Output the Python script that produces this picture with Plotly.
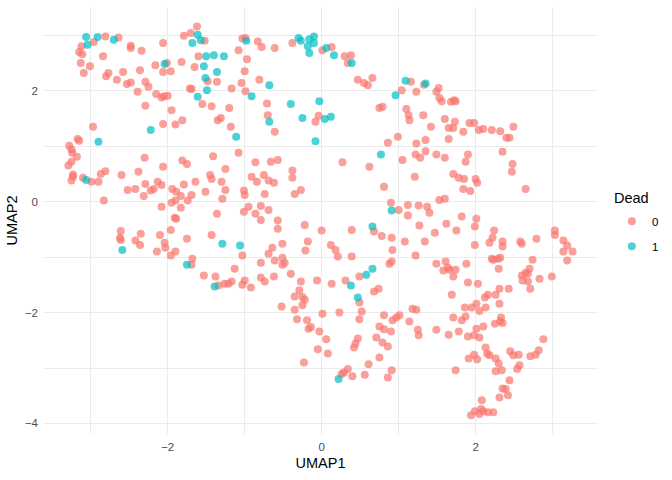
import plotly.graph_objects as go

# UMAP coordinates, split by the "Dead" flag
alive_x = [
    -2.81, -2.64, -2.96, -3.12, -2.48, -2.48, -2.06, -2.34, -3.15, -3.11, -2.84, -3.13, -3.01, -3.09, -2.77, -2.80,
    -2.58, -2.66, -2.53, -2.48, -2.36, -2.16, -2.01, -2.06, -1.96, -1.82, -1.65, -2.29, -2.25, -2.39, -2.15, -2.08,
    -2.05, -2.00, -2.29, -1.95, -2.06, -1.90, -1.81, -2.97, -1.79, -1.70, -1.62, -1.52, -1.60, -1.48, -1.36, -1.17,
    -1.71, -1.69, -1.55, -1.43, -1.20, -1.35, -1.31, -1.18, -1.08, -3.17, -3.15, -3.28, -3.25, -3.24, -3.18, -1.41,
    -1.03, -0.99, -0.83, -0.78, -0.61, -0.38, -0.97, -1.00, -1.04, -0.99, -0.81, -0.71, -0.70, -0.61, -0.04, -0.08,
    0.01, 0.13, 0.30, 0.38, 0.34, 0.47, 0.55, 0.60, 0.66, 1.04, 1.16, 1.23, 0.75, 0.79, 1.10, 1.13,
    1.14, 0.99, 0.86, 1.23, 1.22, -1.08,
    1.33, 1.52, 1.49, 1.53, 1.56, 1.68, 1.72, 1.74, 1.32, 1.60, 1.73, 1.42, 1.65, 1.71, 1.84, 1.92,
    1.98, 2.04, 2.10, 2.21, 2.32, 2.49, 2.40, 2.44, 1.35, 1.65, 1.35, 1.49, 1.90, 2.35,
    -3.25, -3.29, -2.30, -1.81, -1.75, -2.06, -2.38, -2.81, -2.87, -3.23, -3.23, -3.10, -3.25, -2.99, -2.90, -2.60,
    -2.52, -2.42, -2.29, -2.31, -2.22, -2.18, -2.13, -2.08, -1.94, -1.89, -1.83, -1.79, -1.69, -1.64, -1.95, -1.90,
    -1.74, -1.83, -2.08, -2.83, -1.91, -1.89, -1.45, -1.43, -1.25, -1.30, -1.25, -1.51, -1.29, -1.36, -1.96, -2.10,
    -2.35, -2.61, -2.62, -2.61, -2.42, -2.36, -2.04, -2.03, -2.14, -1.96, -1.90, -1.75, -1.43, -1.68, -1.69, -1.53,
    -1.38, -1.13, -1.34, -1.26, -1.21, -1.17,
    -0.86, -0.66, -0.57, -0.38, -0.38, -0.91, -0.84, -0.75, -0.69, -0.62, -1.01, -1.00, -0.74, -0.35, -0.27, 0.27,
    0.62, 0.81, 1.05, 1.21, -0.95, -1.01, -0.79, -0.86, -0.69, -0.79, -0.57, -0.57, -0.22, 0.00, 0.39, 0.68,
    0.78, 0.91, 0.90, 1.00, 1.12, 1.12, 1.08, 0.92, 1.22, 0.88, 0.91, -0.18, -0.21, -0.51, -0.64, -0.69,
    -0.61, -0.51, -0.51, -0.48, -1.03, -0.79, 0.12, 0.18, 0.21, 0.39, -0.40, -0.27, -0.06, 0.13, 0.31, 0.49,
    -0.79, -0.74, -0.62, -1.00, -1.03, -0.92, -0.29, -0.35, 0.68, 0.74,
    1.28, 1.60, 1.87, 2.48, 2.47, 1.71, 1.78, 1.85, 2.00, 2.02, 1.84, 1.93, 2.65, 1.53, 1.60, 1.26,
    1.37, 1.40, 1.82, 2.01, 1.27, 1.62, 1.99, 1.75, 1.47, 2.24, 2.22, 2.18, 2.35, 2.35, 1.99, 1.34,
    2.58, 2.60, 2.79, 3.03, 3.03, 3.14, 3.19, 3.26, 3.14, 3.19, 1.49, 1.61, 1.58, 1.64, 1.66, 1.74,
    1.71, 1.88, 2.21, 2.23, 2.29, 2.32, 2.30, 2.74, 2.70, 2.65, 2.60, 2.68, 2.83, 2.99, 2.61, 2.68,
    2.71, 1.90, 2.03, 2.31, 2.43, 1.69, 2.16, 2.26,
    2.12, 2.31, 2.01, 1.86, 1.95, 2.05, 2.13, 1.71, 1.82, 1.87, 2.25, 2.33, 2.32, 2.35, 2.10, 1.25,
    1.26, 1.49, 1.65, 1.78, 1.90, 1.98, 2.01, 2.05, 2.88, 2.13, 2.15, 2.18, 1.98, 1.91, 2.02, 2.26,
    2.30, 2.45, 2.49, 2.56, 2.71, 2.78, 2.82, 2.57, 2.54, 2.26, 2.34, 1.74, 2.44, 2.35, 2.39, 2.42,
    2.31, 2.08, 1.99, 1.94, 2.05, 2.07, 2.10, 2.16, 2.23,
    -0.25, -0.22, -0.52, -0.35, -0.25, 0.01, 0.23, 0.49, 0.52, 0.49, 0.81, 0.92, 0.97, 1.01, 1.14, 1.18,
    1.23, -0.32, -0.19, -0.17, -0.14, -0.03, 0.06, -0.05, 0.08, -0.23, 0.47, 0.44, 0.42, 0.75, 0.81, 0.90,
    0.71, 0.79, 0.86, 0.75, 0.61, 0.56, 0.91, 0.86, 0.40, 0.34, 0.29, 0.26,
]
alive_y = [
    2.98, 2.96, 2.88, 2.80, 2.81, 2.77, 2.86, 2.72, 2.70, 2.66, 2.62, 2.50, 2.44, 2.32, 2.32, 2.26,
    2.34, 2.20, 2.12, 2.15, 2.37, 2.46, 2.50, 2.34, 2.35, 2.52, 2.43, 2.16, 2.07, 1.98, 1.94, 1.88,
    1.90, 1.91, 1.73, 1.65, 1.40, 1.39, 1.47, 1.35, 2.99, 3.04, 3.16, 2.90, 2.62, 2.17, 2.16, 2.04,
    2.04, 2.03, 1.76, 1.72, 1.69, 1.47, 1.51, 1.35, 2.73, 1.13, 1.10, 1.01, 0.94, 0.88, 0.81, 0.82,
    2.94, 2.95, 2.89, 2.79, 2.77, 2.86, 2.57, 2.35, 2.14, 1.99, 2.20, 1.77, 1.56, 1.26, 1.55, 1.44,
    2.73, 2.79, 2.62, 2.64, 2.50, 2.20, 2.14, 2.10, 2.23, 2.01, 2.16, 1.98, 1.69, 1.71, 1.67, 1.56,
    1.47, 1.17, 1.06, 1.05, 0.85, 0.88,
    2.11, 2.05, 1.98, 1.87, 1.81, 1.80, 1.83, 1.81, 1.56, 1.49, 1.44, 1.35, 1.33, 1.33, 1.26, 1.42,
    1.42, 1.29, 1.31, 1.29, 1.27, 1.35, 1.15, 1.15, 1.11, 1.13, 0.91, 0.85, 0.85, 0.90,
    0.72, 0.65, 0.79, 0.74, 0.68, 0.63, 0.54, 0.55, 0.50, 0.49, 0.45, 0.43, 0.38, 0.36, 0.36, 0.48,
    0.21, 0.23, 0.32, 0.10, 0.20, 0.23, 0.36, 0.30, 0.23, 0.18, 0.10, 0.31, 0.12, 0.36, -0.02, 0.02,
    0.02, -0.11, -0.09, 0.02, -0.29, -0.31, 0.48, 0.41, 0.59, 0.36, 0.21, 0.18, 0.05, -0.22, -0.51, -0.60,
    -0.58, -0.53, -0.65, -0.69, -0.70, -0.78, -0.74, -0.83, -0.90, -0.97, -0.90, -0.67, -0.60, -1.03, -1.14, -1.33,
    -1.35, -1.21, -1.51, -1.48, -1.48, -1.44,
    0.71, 0.72, 0.75, 0.56, 0.43, 0.45, 0.36, 0.48, 0.38, 0.34, 0.20, 0.12, 0.14, 0.14, 0.21, 0.71,
    0.63, 0.27, 0.75, 0.45, -0.09, -0.18, -0.08, -0.22, -0.15, -0.33, -0.34, -0.49, -0.42, -0.52, -0.51, -0.54,
    -0.62, -0.65, -0.02, -0.15, -0.06, -0.25, -0.72, -0.87, -0.97, -1.12, -1.08, -0.72, -0.88, -0.76, -0.83, -0.94,
    -1.06, -1.01, -1.14, -1.10, -0.97, -1.10, -0.78, -0.87, -0.99, -0.99, -1.30, -1.44, -1.42, -1.48, -1.42, -1.35,
    -1.37, -1.44, -1.35, -1.42, -1.50, -1.55, -1.60, -1.71, -1.62, -1.57,
    0.79, 0.79, 0.72, 0.68, 0.54, 0.50, 0.43, 0.41, 0.41, 0.34, 0.23, 0.19, 0.23, 0.03, 0.05, -0.07,
    -0.09, -0.20, -0.27, -0.31, -0.43, -0.40, -0.45, -0.52, -0.56, -0.52, -0.65, -0.74, -0.72, -0.81, -0.78, -0.72,
    -0.72, -0.76, -0.67, -0.52, -0.60, -0.70, -0.79, -0.90, -0.90, -1.06, -1.12, -1.08, -1.24, -1.19, -1.23, -1.23,
    -1.35, -1.12, -1.03, -1.05, -1.03, -1.01, -1.21, -1.05, -1.21, -1.28, -1.33, -1.30, -1.39, -1.35, -1.42, -1.44,
    -1.57, -1.46, -1.48, -1.57, -1.57, -1.68, -1.68, -1.68,
    -1.73, -1.84, -1.84, -1.91, -1.91, -1.97, -1.91, -2.09, -2.14, -2.07, -2.20, -2.09, -2.16, -2.19, -2.25, -2.31,
    -2.41, -2.31, -2.40, -2.34, -2.43, -2.41, -2.29, -2.45, -2.48, -2.63, -2.74, -2.77, -2.76, -2.83, -2.84, -2.83,
    -2.92, -2.70, -2.77, -2.76, -2.79, -2.76, -2.68, -2.95, -3.02, -3.06, -3.04, -3.04, -3.22, -3.37, -3.38, -3.49,
    -3.53, -3.58, -3.78, -3.85, -3.83, -3.74, -3.78, -3.80, -3.80,
    -1.72, -1.77, -1.89, -1.95, -1.87, -2.02, -2.00, -1.82, -1.98, -2.12, -2.05, -2.14, -2.09, -2.05, -2.16, -1.93,
    -1.95, -2.12, -2.14, -2.29, -2.26, -2.34, -2.48, -2.66, -2.74, -2.90, -2.47, -2.56, -2.63, -2.25, -2.30, -2.34,
    -2.45, -2.54, -2.61, -2.81, -2.93, -3.12, -3.04, -3.17, -3.15, -3.02, -3.08, -3.11,
]

dead_x = [
    -3.06, -2.91, -3.04, -2.70, -2.04, -1.68, -1.61, -1.57, -1.50, -1.40, -1.27, -1.53, -1.36, -1.51, -1.49, -1.61,
    -2.22, -2.90, -1.11, -0.98, -0.30, -0.27, -0.16, -0.10, -0.10, -0.18, -0.16, 0.06, 0.16, 0.39, -0.68, -0.91,
    -0.40, -0.03, -0.25, 0.04, 0.12, -0.68, -0.08, 1.09, 0.96, 0.77, 1.35, -3.06, -2.59, -1.75, -1.39, -1.29,
    -1.06, 0.91, 0.66, 0.66, 0.58, 0.38, 0.47, 0.22,
]
dead_y = [
    2.97, 2.97, 2.83, 2.92, 2.48, 2.86, 3.01, 2.91, 2.62, 2.64, 2.62, 2.44, 2.34, 2.23, 2.01, 1.89,
    1.29, 1.08, 1.17, 2.90, 2.95, 2.90, 2.93, 2.98, 2.86, 2.80, 2.68, 2.77, 2.64, 2.50, 2.10, 1.90,
    1.76, 1.81, 1.51, 1.49, 1.53, 1.44, 1.09, 2.18, 1.92, 0.85, 2.13, 0.39, -0.87, -1.14, -1.53, -0.76,
    -0.79, -0.16, -0.45, -1.21, -1.32, -1.51, -1.73, -3.20,
]

groups = [("0", alive_x, alive_y, "#F8766D"), ("1", dead_x, dead_y, "#00BFC4")]

fig = go.Figure()
for name, xs, ys, color in groups:
    fig.add_trace(go.Scatter(
        x=xs, y=ys, mode="markers", name=name, legendgroup=name,
        marker=dict(color=color, size=8, opacity=0.7, line=dict(width=0)),
    ))

axis_style = dict(
    showgrid=True, gridcolor="#EBEBEB", gridwidth=1.1,
    zeroline=False, showline=False, ticks="",
    tick0=0, dtick=2,
    minor=dict(tick0=1, dtick=2, showgrid=True, gridcolor="#EBEBEB", gridwidth=0.6),
    tickfont=dict(size=11.5, color="#4D4D4D"),
    ticklabelstandoff=4,
    automargin=False,
)

fig.update_layout(
    width=672, height=480,
    margin=dict(l=43, r=74, t=7, b=46),
    paper_bgcolor="white", plot_bgcolor="white",
    font=dict(family="Liberation Sans, Arial, sans-serif", color="black"),
    xaxis=dict(axis_style, range=[-3.62, 3.59],
               title=dict(text="UMAP1", font=dict(size=14.5), standoff=6)),
    yaxis=dict(axis_style, range=[-4.19, 3.51],
               title=dict(text="UMAP2", font=dict(size=14.5), standoff=3)),
    legend=dict(
        font=dict(size=11.5),
        x=1.025, xanchor="left", y=0.532, yanchor="top",
        bgcolor="rgba(0,0,0,0)",
        traceorder="grouped", tracegroupgap=6,
    ),
)

# legend title drawn as a separate label so the gap to the keys matches ggplot
fig.add_annotation(
    text="Dead", xref="paper", yref="paper", x=1.025, y=0.553,
    xanchor="left", yanchor="middle", showarrow=False,
    font=dict(size=14.5),
)

# the page body has a default margin; drop it so the figure fills the window
fig.write_html(
    "out.html",
    config={"displayModeBar": False},
    post_script="document.body.style.margin = '0';",
)
